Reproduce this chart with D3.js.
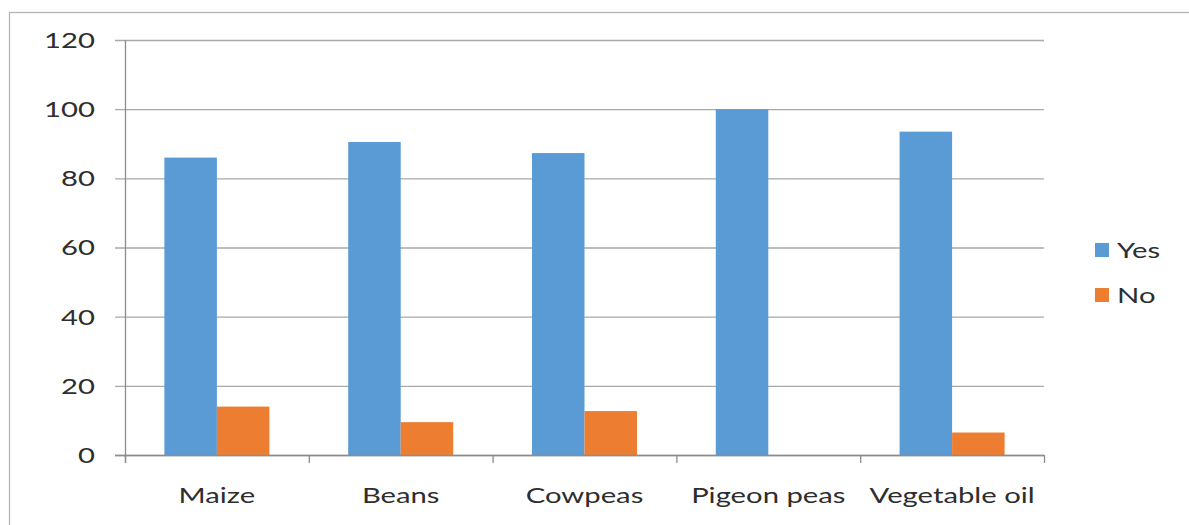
<!DOCTYPE html>
<html>
<head>
<meta charset="utf-8">
<script src="https://cdn.jsdelivr.net/npm/d3@7"></script>
<style>
  html, body { margin: 0; padding: 0; background: #fff; }
  svg { display: block; }
  text { font-family: Lato, "Open Sans", sans-serif; fill: #2e2e2e; }
</style>
</head>
<body>
<svg id="chart" width="1189" height="525"></svg>
<script>
// Commodities and share of respondents (%) answering Yes / No
const categories = ["Maize", "Beans", "Cowpeas", "Pigeon peas", "Vegetable oil"];
const seriesNames = ["Yes", "No"];
const yesValues = [86, 90.5, 87.3, 100, 93.5];
const noValues = [14, 9.5, 12.7, 0, 6.5];
const yTicks = [0, 20, 40, 60, 80, 100, 120];
const seriesColors = ["#5b9bd5", "#ed7d31"];

const rows = categories.map((c, i) => ({ category: c, values: [yesValues[i], noValues[i]] }));

const svg = d3.select("#chart");
const W = 1189, H = 525;
const plot = { left: 125, right: 1044, top: 40, bottom: 455 };
const textStretch = 1.33;
const fontSize = 22;

// Outer frame (top and left edges visible)
svg.append("rect")
  .attr("x", 9.5).attr("y", 12.5)
  .attr("width", W).attr("height", H)
  .attr("fill", "none")
  .attr("stroke", "#b5b5b5")
  .attr("stroke-width", 1.3);

const x0 = d3.scaleBand().domain(categories).range([plot.left, plot.right]).padding(0);
const x1 = d3.scaleBand().domain(seriesNames).range([0, x0.bandwidth()])
  .paddingInner(0).paddingOuter(0.75);
const y = d3.scaleLinear().domain([0, 120]).range([plot.bottom, plot.top]);
const color = d3.scaleOrdinal().domain(seriesNames).range(seriesColors);

// Horizontal gridlines with short tick marks left of the axis
svg.append("g").selectAll("line").data(yTicks).join("line")
  .attr("x1", plot.left - 10).attr("x2", plot.right)
  .attr("y1", d => y(d) + 0.5).attr("y2", d => y(d) + 0.5)
  .attr("stroke", "#a9a9a9").attr("stroke-width", 1.3);

// Bars
const groups = svg.append("g").selectAll("g").data(rows).join("g")
  .attr("transform", d => `translate(${x0(d.category)},0)`);
groups.selectAll("rect")
  .data(d => d.values.map((v, i) => ({ key: seriesNames[i], value: v })))
  .join("rect")
  .attr("x", d => x1(d.key))
  .attr("width", x1.bandwidth())
  .attr("y", d => y(d.value))
  .attr("height", d => y(0) - y(d.value))
  .attr("fill", d => color(d.key));

// Y axis line
svg.append("line")
  .attr("x1", plot.left + 0.5).attr("x2", plot.left + 0.5)
  .attr("y1", plot.top).attr("y2", plot.bottom + 8)
  .attr("stroke", "#8c8c8c").attr("stroke-width", 1.3);

// X axis category boundary ticks
const boundaries = categories.map(c => x0(c)).concat([plot.right]);
svg.append("g").selectAll("line").data(boundaries).join("line")
  .attr("x1", d => d + 0.5).attr("x2", d => d + 0.5)
  .attr("y1", plot.bottom).attr("y2", plot.bottom + 8)
  .attr("stroke", "#8c8c8c").attr("stroke-width", 1.3);

// Baseline
svg.append("line")
  .attr("x1", plot.left - 10).attr("x2", plot.right)
  .attr("y1", plot.bottom + 0.5).attr("y2", plot.bottom + 0.5)
  .attr("stroke", "#8c8c8c").attr("stroke-width", 1.3);

// Y tick labels
svg.append("g").selectAll("text").data(yTicks).join("text")
  .attr("transform", d => `translate(${plot.left - 30},${y(d)}) scale(${textStretch},1)`)
  .attr("text-anchor", "end")
  .attr("dy", "0.36em")
  .attr("font-size", fontSize)
  .text(d => d);

// Category labels
svg.append("g").selectAll("text").data(categories).join("text")
  .attr("transform", d => `translate(${x0(d) + x0.bandwidth() / 2},${plot.bottom + 48}) scale(${textStretch},1)`)
  .attr("text-anchor", "middle")
  .attr("font-size", fontSize)
  .text(d => d);

// Legend
const legend = svg.append("g").selectAll("g").data(seriesNames).join("g")
  .attr("transform", (d, i) => `translate(1095,${250 + i * 45})`);
legend.append("rect")
  .attr("x", 0).attr("y", -7).attr("width", 14).attr("height", 14)
  .attr("fill", d => color(d));
legend.append("text")
  .attr("transform", `translate(22,0) scale(${textStretch},1)`)
  .attr("dy", "0.36em")
  .attr("font-size", fontSize)
  .text(d => d);
</script>
</body>
</html>
